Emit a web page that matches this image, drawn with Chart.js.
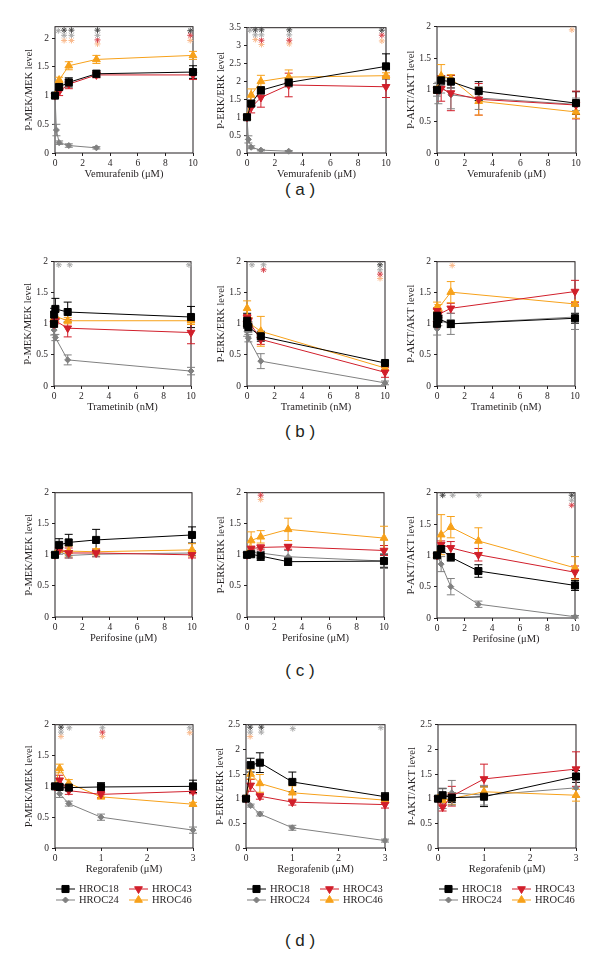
<!DOCTYPE html>
<html>
<head>
<meta charset="utf-8">
<script src="https://cdn.jsdelivr.net/npm/chart.js@4.4.1/dist/chart.umd.min.js"></script>
<style>
  body { margin: 0; background: #fff; }
  #page { position: relative; width: 600px; height: 958px; overflow: hidden; background: #fff; }
  canvas { position: absolute; }
  .tag { position: absolute; left: 0; width: 600px; text-align: center; font: 17px 'Liberation Sans', Arial, sans-serif; color: #231f20; }
</style>
</head>
<body>
<div id="page">
  <div class="tag" style="top:180px">( a )</div>
  <div class="tag" style="top:422px">( b )</div>
  <div class="tag" style="top:661px">( c )</div>
  <div class="tag" style="top:931px">( d )</div>
</div>
<script>
// doses
const vemX = [0, 0.1, 0.3, 1, 3, 10]
const traX = [0, 0.01, 0.1, 1, 10]
const perX = [0, 0.3, 1, 3, 10]
const regX = [0, 0.1, 0.3, 1, 3]

// rows: HROC18, HROC24, HROC43, HROC46
const vemMek = [
  [1, null, 1.15, 1.23, 1.38, 1.41],
  [1, 0.40, 0.18, 0.13, 0.09, null],
  [1, null, 1.07, 1.20, 1.36, 1.36],
  [1, null, 1.27, 1.52, 1.63, 1.70]
]
const vemMekErr = [
  [0, null, 0.05, 0.08, 0.06, 0.11],
  [0, 0.10, 0.03, 0.03, 0.02, null],
  [0, null, 0.07, 0.08, 0.05, 0.08],
  [0, null, 0.05, 0.07, 0.07, 0.07]
]
// significance stars: [dose, level, series]
const vemMekSig = [
  [0.24, 2.13, 1], [0.66, 2.14, 0], [0.66, 2.05, 1], [0.66, 1.96, 3],
  [1.19, 2.14, 0], [1.19, 2.05, 1], [1.19, 1.96, 3],
  [3.08, 2.14, 0], [3.08, 2.05, 1], [3.08, 1.97, 2], [3.08, 1.9, 3],
  [9.8, 2.13, 0], [9.8, 2.05, 2], [9.8, 1.96, 3]
]

const vemErk = [
  [1, null, 1.38, 1.75, 1.97, 2.42],
  [1, 0.38, 0.16, 0.08, 0.05, null],
  [1, null, 1.27, 1.55, 1.90, 1.85],
  [1, null, 1.62, 2.00, 2.12, 2.16]
]
const vemErkErr = [
  [0, null, 0.08, 0.10, 0.12, 0.35],
  [0, 0.10, 0.04, 0.02, 0.02, null],
  [0, null, 0.15, 0.27, 0.33, 0.30],
  [0, null, 0.17, 0.17, 0.20, 0.08]
]
const vemErkSig = [
  [0.2, 3.43, 1], [0.6, 3.44, 0], [0.6, 3.3, 1], [0.6, 3.17, 3],
  [1.04, 3.44, 0], [1.04, 3.3, 1], [1.04, 3.15, 2], [1.04, 3.03, 3],
  [3.04, 3.44, 0], [3.04, 3.3, 1], [3.04, 3.15, 2], [3.04, 3.05, 3],
  [9.7, 3.43, 0], [9.7, 3.29, 2], [9.7, 3.13, 3]
]

const vemAkt = [
  [1, null, 1.15, 1.13, 0.98, 0.79],
  [1, 0.95, 1.05, 0.92, 0.87, 0.77],
  [1, null, 1.02, 0.95, 0.85, 0.76],
  [1, null, 1.22, 1.18, 0.82, 0.65]
]
const vemAktErr = [
  [0.03, null, 0.07, 0.10, 0.15, 0.18],
  [0.10, 0.17, 0.10, 0.22, 0.18, 0.10],
  [0.05, null, 0.20, 0.28, 0.25, 0.22],
  [0.05, null, 0.18, 0.06, 0.22, 0.10]
]
const vemAktSig = [[9.7, 1.95, 3]]

const traMek = [
  [1, 1.15, 1.24, 1.19, 1.11],
  [1, 0.90, 0.78, 0.42, 0.24],
  [1, 1.00, 1.05, 0.93, 0.86],
  [1, 1.10, 1.12, 1.05, 1.05]
]
const traMekErr = [
  [0, 0.10, 0.17, 0.16, 0.17],
  [0, 0.08, 0.05, 0.08, 0.06],
  [0, 0.05, 0.05, 0.14, 0.18],
  [0, 0.08, 0.08, 0.05, 0.06]
]
const traMekSig = [[0.35, 1.95, 1], [1.15, 1.95, 1], [9.85, 1.95, 1]]

const traErk = [
  [1, 1.05, 0.95, 0.80, 0.37],
  [1, 0.88, 0.77, 0.40, 0.05],
  [1, 1.10, 1.05, 0.75, 0.22],
  [1, 1.25, 1.02, 0.88, 0.29]
]
const traErkErr = [
  [0, 0.12, 0.08, 0.08, 0.04],
  [0, 0.08, 0.06, 0.12, 0.03],
  [0, 0.05, 0.05, 0.08, 0.08],
  [0, 0.12, 0.08, 0.24, 0.04]
]
const traErkSig = [
  [0.36, 1.95, 1], [1.2, 1.95, 1], [1.2, 1.87, 2],
  [9.64, 1.95, 0], [9.64, 1.87, 1], [9.64, 1.8, 2], [9.64, 1.73, 3]
]

const traAkt = [
  [1, 1.13, 1.08, 1.00, 1.09],
  [1, 0.92, 1.05, 1.00, 1.11],
  [1, 1.21, 1.15, 1.25, 1.52],
  [1, 1.27, 1.25, 1.51, 1.32]
]
const traAktErr = [
  [0, 0.06, 0.06, 0.06, 0.08],
  [0, 0.10, 0.08, 0.17, 0.20],
  [0, 0.05, 0.05, 0.08, 0.18],
  [0, 0.08, 0.06, 0.17, 0.04]
]
const traAktSig = [[1.1, 1.94, 3]]

const perMek = [
  [1, 1.16, 1.20, 1.24, 1.32],
  [1, 1.05, 0.99, 1.01, 1.03],
  [1, 1.08, 1.03, 1.03, 1.00],
  [1, 1.08, 1.06, 1.05, 1.08]
]
const perMekErr = [
  [0.02, 0.10, 0.13, 0.17, 0.13],
  [0.02, 0.04, 0.04, 0.04, 0.04],
  [0.02, 0.04, 0.08, 0.06, 0.05],
  [0.02, 0.04, 0.08, 0.05, 0.10]
]
const perMekSig = []

const perErk = [
  [1, 1.01, 0.98, 0.89, 0.90],
  [1, 1.04, 1.03, 0.97, 0.90],
  [1, 1.10, 1.12, 1.13, 1.07],
  [1, 1.23, 1.29, 1.41, 1.27]
]
const perErkErr = [
  [0.02, 0.04, 0.07, 0.06, 0.10],
  [0.02, 0.04, 0.08, 0.10, 0.12],
  [0.02, 0.04, 0.04, 0.04, 0.08],
  [0.02, 0.14, 0.10, 0.18, 0.19]
]
const perErkSig = [[1.0, 1.96, 2], [1.0, 1.89, 3]]

const perAkt = [
  [1, 1.10, 0.97, 0.75, 0.52],
  [1, 0.86, 0.50, 0.22, 0.02],
  [1, 1.17, 1.12, 1.01, 0.73],
  [1, 1.33, 1.45, 1.23, 0.80]
]
const perAktErr = [
  [0.02, 0.04, 0.06, 0.10, 0.08],
  [0.02, 0.12, 0.13, 0.05, 0.02],
  [0.02, 0.06, 0.10, 0.10, 0.10],
  [0.02, 0.32, 0.17, 0.21, 0.18]
]
const perAktSig = [
  [0.41, 1.96, 0], [1.14, 1.96, 1], [3.03, 1.96, 1],
  [9.76, 1.96, 0], [9.76, 1.88, 1], [9.76, 1.8, 2]
]

const regMek = [
  [1, 0.99, 0.98, 0.99, 1.00],
  [1, 0.88, 0.72, 0.50, 0.29],
  [1, 1.10, 0.93, 0.87, 0.92],
  [1, 1.29, 1.05, 0.83, 0.71]
]
const regMekErr = [
  [0.02, 0.03, 0.05, 0.07, 0.10],
  [0.02, 0.06, 0.04, 0.05, 0.05],
  [0.02, 0.08, 0.06, 0.05, 0.04],
  [0.02, 0.07, 0.06, 0.03, 0.03]
]
const regMekSig = [
  [0.13, 1.96, 0], [0.13, 1.88, 1], [0.13, 1.81, 3], [0.31, 1.95, 1],
  [1.03, 1.95, 1], [1.03, 1.88, 2], [1.03, 1.81, 3],
  [2.93, 1.95, 1], [2.93, 1.87, 3]
]

const regErk = [
  [1, 1.68, 1.73, 1.34, 1.04],
  [1, 0.86, 0.69, 0.41, 0.15],
  [1, 1.27, 1.05, 0.93, 0.88],
  [1, 1.50, 1.31, 1.12, 0.97]
]
const regErkErr = [
  [0.02, 0.14, 0.20, 0.20, 0.08],
  [0.02, 0.03, 0.04, 0.05, 0.03],
  [0.02, 0.12, 0.06, 0.06, 0.07],
  [0.02, 0.10, 0.18, 0.14, 0.06]
]
const regErkSig = [
  [0.09, 2.45, 0], [0.09, 2.35, 1], [0.09, 2.26, 3],
  [0.33, 2.45, 0], [0.33, 2.35, 1], [1.01, 2.42, 1], [2.91, 2.44, 1]
]

const regAkt = [
  [1, 1.07, 1.02, 1.04, 1.45],
  [1, 1.00, 1.12, 1.07, 1.22],
  [1, 0.83, 1.05, 1.40, 1.60],
  [1, 0.97, 1.00, 1.14, 1.07]
]
const regAktErr = [
  [0.03, 0.14, 0.10, 0.20, 0.12],
  [0.03, 0.20, 0.25, 0.20, 0.18],
  [0.03, 0.08, 0.20, 0.30, 0.35],
  [0.03, 0.10, 0.12, 0.10, 0.12]
]
const regAktSig = []

const seriesNames = ['HROC18', 'HROC24', 'HROC43', 'HROC46']
const seriesColors = ['#000000', '#808080', '#d11f2b', '#f7a11a']
const sigColors = ['#4a4a4a', '#a8a8a8', '#d9464e', '#f9b98c']
const markers = [
  { style: 'rect', r: 5, rot: 0 },
  { style: 'rectRot', r: 3, rot: 0 },
  { style: 'triangle', r: 4.5, rot: 180 },
  { style: 'triangle', r: 4.5, rot: 0 }
]

const textColor = '#231f20'
const serif = "'Liberation Serif', 'Times New Roman', serif"

const panels = [
  { x: vemX, val: vemMek, err: vemMekErr, sig: vemMekSig, left: 55, top: 26, w: 138, h: 127, xMax: 10, xStep: 2, yMax: 2.2, xTitle: 'Vemurafenib (μM)', yTitle: 'P-MEK/MEK level' },
  { x: vemX, val: vemErk, err: vemErkErr, sig: vemErkSig, left: 247, top: 27, w: 139, h: 126, xMax: 10, xStep: 2, yMax: 3.5, xTitle: 'Vemurafenib (μM)', yTitle: 'P-ERK/ERK level' },
  { x: vemX, val: vemAkt, err: vemAktErr, sig: vemAktSig, left: 437, top: 26, w: 139, h: 127, xMax: 10, xStep: 2, yMax: 2, xTitle: 'Vemurafenib (μM)', yTitle: 'P-AKT/AKT level' },
  { x: traX, val: traMek, err: traMekErr, sig: traMekSig, left: 54, top: 261, w: 137, h: 125, xMax: 10, xStep: 2, yMax: 2, xTitle: 'Trametinib (nM)', yTitle: 'P-MEK/MEK level' },
  { x: traX, val: traErk, err: traErkErr, sig: traErkSig, left: 247, top: 261, w: 138, h: 125, xMax: 10, xStep: 2, yMax: 2, xTitle: 'Trametinib (nM)', yTitle: 'P-ERK/ERK level' },
  { x: traX, val: traAkt, err: traAktErr, sig: traAktSig, left: 437, top: 261, w: 138, h: 125, xMax: 10, xStep: 2, yMax: 2, xTitle: 'Trametinib (nM)', yTitle: 'P-AKT/AKT level' },
  { x: perX, val: perMek, err: perMekErr, sig: perMekSig, left: 55, top: 492, w: 137, h: 125, xMax: 10, xStep: 2, yMax: 2, xTitle: 'Perifosine (μM)', yTitle: 'P-MEK/MEK level' },
  { x: perX, val: perErk, err: perErkErr, sig: perErkSig, left: 247, top: 492, w: 137, h: 125, xMax: 10, xStep: 2, yMax: 2, xTitle: 'Perifosine (μM)', yTitle: 'P-ERK/ERK level' },
  { x: perX, val: perAkt, err: perAktErr, sig: perAktSig, left: 437, top: 492, w: 138, h: 126, xMax: 10, xStep: 2, yMax: 2, xTitle: 'Perifosine (μM)', yTitle: 'P-AKT/AKT level' },
  { x: regX, val: regMek, err: regMekErr, sig: regMekSig, left: 55, top: 724, w: 138, h: 124, xMax: 3, xStep: 1, yMax: 2, xTitle: 'Regorafenib (μM)', yTitle: 'P-MEK/MEK level', legend: true },
  { x: regX, val: regErk, err: regErkErr, sig: regErkSig, left: 246, top: 724, w: 139, h: 124, xMax: 3, xStep: 1, yMax: 2.5, xTitle: 'Regorafenib (μM)', yTitle: 'P-ERK/ERK level', legend: true },
  { x: regX, val: regAkt, err: regAktErr, sig: regAktSig, left: 438, top: 724, w: 138, h: 124, xMax: 3, xStep: 1, yMax: 2.5, xTitle: 'Regorafenib (μM)', yTitle: 'P-AKT/AKT level', legend: true }
]

const frame = {
  id: 'frame',
  beforeDatasetsDraw(chart) {
    const { ctx, chartArea: a } = chart
    ctx.save()
    ctx.strokeStyle = textColor
    ctx.lineWidth = 1
    ctx.strokeRect(a.left, a.top, a.right - a.left, a.bottom - a.top)
    ctx.restore()
  }
}

const errorBars = {
  id: 'errorBars',
  beforeDatasetsDraw(chart) {
    const ctx = chart.ctx
    const yScale = chart.scales.y
    chart.data.datasets.forEach((ds, i) => {
      if (!ds.errors) return
      const meta = chart.getDatasetMeta(i)
      ctx.save()
      ctx.strokeStyle = ds.borderColor
      ctx.lineWidth = 1
      meta.data.forEach((pt, j) => {
        const e = ds.errors[j]
        if (!e) return
        const v = ds.data[j].y
        const y1 = yScale.getPixelForValue(v + e)
        const y2 = yScale.getPixelForValue(v - e)
        ctx.beginPath()
        ctx.moveTo(pt.x, y1); ctx.lineTo(pt.x, y2)
        ctx.moveTo(pt.x - 4, y1); ctx.lineTo(pt.x + 4, y1)
        ctx.moveTo(pt.x - 4, y2); ctx.lineTo(pt.x + 4, y2)
        ctx.stroke()
      })
      ctx.restore()
    })
  }
}

const hrocLegend = {
  id: 'hrocLegend',
  afterDraw(chart, args, opts) {
    if (!opts.show) return
    const { ctx, chartArea: a } = chart
    // [series, column, row]
    const cells = [[0, 0, 0], [2, 1, 0], [1, 0, 1], [3, 1, 1]]
    ctx.save()
    ctx.font = "10.5px " + serif
    ctx.textBaseline = 'middle'
    for (const [s, c, r] of cells) {
      const x0 = a.left + 1 + c * 73
      const y = a.bottom + 41 + r * 11
      ctx.strokeStyle = seriesColors[s]
      ctx.fillStyle = seriesColors[s]
      ctx.lineWidth = 1
      ctx.beginPath()
      ctx.moveTo(x0, y); ctx.lineTo(x0 + 19, y)
      ctx.stroke()
      Chart.helpers.drawPoint(ctx, { pointStyle: markers[s].style, radius: markers[s].r, rotation: markers[s].rot, borderWidth: 1 }, x0 + 9.5, y)
      ctx.fillStyle = textColor
      ctx.fillText(seriesNames[s], x0 + 23, y)
    }
    ctx.restore()
  }
}

function makeDatasets(p) {
  const sets = []
  for (let s = 0; s < 4; s++) {
    const pts = p.sig.filter(a => a[2] === s).map(a => ({ x: a[0], y: a[1] }))
    if (pts.length) {
      sets.push({
        data: pts, showLine: false, pointStyle: 'star', pointRadius: 3,
        pointBorderWidth: 1, borderColor: sigColors[s], backgroundColor: sigColors[s], clip: false
      })
    }
  }
  for (const s of [0, 2, 3, 1]) {
    const data = []
    const errs = []
    p.x.forEach((xv, i) => {
      if (p.val[s][i] == null) return
      data.push({ x: xv, y: p.val[s][i] })
      errs.push(p.err[s][i])
    })
    sets.push({
      label: seriesNames[s], data: data, errors: errs,
      borderColor: seriesColors[s], backgroundColor: seriesColors[s], borderWidth: 1,
      pointStyle: markers[s].style, pointRadius: markers[s].r, pointRotation: markers[s].rot,
      pointBorderWidth: 1, tension: 0, clip: false
    })
  }
  return sets
}

function keepSteps(step) {
  return s => {
    s.ticks = s.ticks.filter(t => Math.abs(t.value / step - Math.round(t.value / step)) < 1e-6)
  }
}

const page = document.getElementById('page')

for (const p of panels) {
  const padB = p.legend ? 58 : 4
  const W = p.w + 60
  const H = p.h + 8 + 32 + padB
  const cv = document.createElement('canvas')
  cv.width = W
  cv.height = H
  cv.style.left = (p.left - 50) + 'px'
  cv.style.top = (p.top - 8) + 'px'
  cv.style.width = W + 'px'
  cv.style.height = H + 'px'
  page.appendChild(cv)

  new Chart(cv, {
    type: 'line',
    data: { datasets: makeDatasets(p) },
    options: {
      responsive: false,
      animation: false,
      layout: { padding: { left: 0, right: 10, top: 8, bottom: padB }, autoPadding: false },
      plugins: {
        legend: { display: false },
        tooltip: { enabled: false },
        hrocLegend: { show: !!p.legend }
      },
      scales: {
        x: {
          type: 'linear', min: 0, max: p.xMax, bounds: 'data',
          ticks: { stepSize: p.xStep, includeBounds: false, autoSkip: false, maxRotation: 0, padding: 2, color: textColor, font: { family: serif, size: 9.5 }, callback: v => v },
          grid: { display: true, drawOnChartArea: false, drawTicks: true, tickLength: 3, color: textColor },
          border: { display: false },
          title: { display: true, text: p.xTitle, color: textColor, font: { family: serif, size: 10.5 }, padding: { top: 0, bottom: 4 } },
          afterBuildTicks: keepSteps(p.xStep),
          afterFit: s => { s.height = 32 }
        },
        y: {
          type: 'linear', min: 0, max: p.yMax, bounds: 'data',
          ticks: { stepSize: 0.5, includeBounds: false, autoSkip: false, padding: 3, color: textColor, font: { family: serif, size: 9.5 }, callback: v => v },
          grid: { display: true, drawOnChartArea: false, drawTicks: true, tickLength: 3, color: textColor },
          border: { display: false },
          title: { display: true, text: p.yTitle, color: textColor, font: { family: serif, size: 10.5 }, padding: { top: 18, bottom: 0 } },
          afterBuildTicks: keepSteps(0.5),
          afterFit: s => { s.width = 50 }
        }
      }
    },
    plugins: [frame, errorBars, hrocLegend]
  })
}
</script>
</body>
</html>
